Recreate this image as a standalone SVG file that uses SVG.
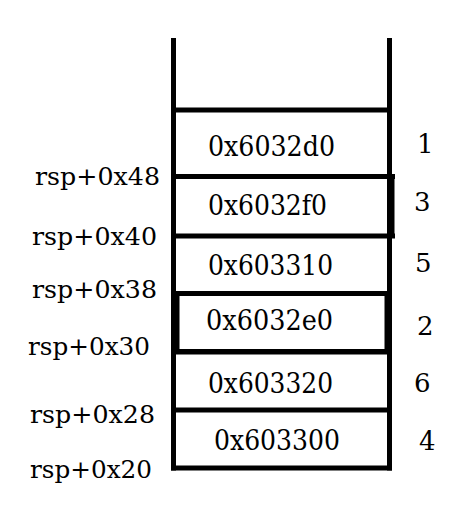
<svg xmlns="http://www.w3.org/2000/svg" width="465" height="516" viewBox="0 0 465 516">
<style>
.ln{stroke:#000;stroke-width:5;fill:none}
.hex{font-family:"DejaVu Serif","Liberation Serif",serif;font-size:27px;fill:#000}
.lbl{font-family:"DejaVu Serif","Liberation Serif",serif;font-size:25px;fill:#000}
.num{font-family:"DejaVu Serif","Liberation Serif",serif;font-size:26px;fill:#000}
</style>
<rect width="465" height="516" fill="#fff"/>
<g id="stack">
<line class="ln" x1="173.5" y1="38" x2="173.5" y2="470.5"/>
<line class="ln" x1="389.5" y1="38" x2="389.5" y2="470.5"/>
<line class="ln" x1="171" y1="468" x2="392" y2="468"/>
</g>
<g id="cell1">
<line class="ln" x1="171" y1="110" x2="392" y2="110"/>
<text class="hex" x="208" y="156" textLength="127" lengthAdjust="spacingAndGlyphs">0x6032d0</text>
<text class="num" x="417" y="153">1</text>
</g>
<g id="cell3">
<line class="ln" x1="171" y1="176.5" x2="395" y2="176.5"/>
<line class="ln" x1="392" y1="176" x2="392" y2="237"/>
<text class="hex" x="208" y="215" textLength="119" lengthAdjust="spacingAndGlyphs">0x6032f0</text>
<text class="num" x="414" y="211">3</text>
</g>
<g id="cell5">
<line class="ln" x1="171" y1="236" x2="395" y2="236"/>
<text class="hex" x="208" y="275" textLength="125" lengthAdjust="spacingAndGlyphs">0x603310</text>
<text class="num" x="415" y="272">5</text>
</g>
<g id="cell2">
<rect class="ln" x="177" y="293.5" width="210" height="58"/>
<text class="hex" x="206" y="330" textLength="127" lengthAdjust="spacingAndGlyphs">0x6032e0</text>
<text class="num" x="417" y="335">2</text>
</g>
<g id="cell6">
<line class="ln" x1="171" y1="352" x2="392" y2="352"/>
<text class="hex" x="208" y="393" textLength="125" lengthAdjust="spacingAndGlyphs">0x603320</text>
<text class="num" x="414" y="392">6</text>
</g>
<g id="cell4">
<line class="ln" x1="171" y1="410" x2="392" y2="410"/>
<text class="hex" x="214" y="450" textLength="126" lengthAdjust="spacingAndGlyphs">0x603300</text>
<text class="num" x="419" y="450">4</text>
</g>
<g id="labels">
<text class="lbl" x="35" y="185" textLength="125" lengthAdjust="spacingAndGlyphs">rsp+0x48</text>
<text class="lbl" x="32" y="245" textLength="125" lengthAdjust="spacingAndGlyphs">rsp+0x40</text>
<text class="lbl" x="32" y="298" textLength="125" lengthAdjust="spacingAndGlyphs">rsp+0x38</text>
<text class="lbl" x="28" y="355" textLength="122" lengthAdjust="spacingAndGlyphs">rsp+0x30</text>
<text class="lbl" x="30" y="423" textLength="125" lengthAdjust="spacingAndGlyphs">rsp+0x28</text>
<text class="lbl" x="30" y="478" textLength="122" lengthAdjust="spacingAndGlyphs">rsp+0x20</text>
</g>
<g id="connectors"/>
</svg>
